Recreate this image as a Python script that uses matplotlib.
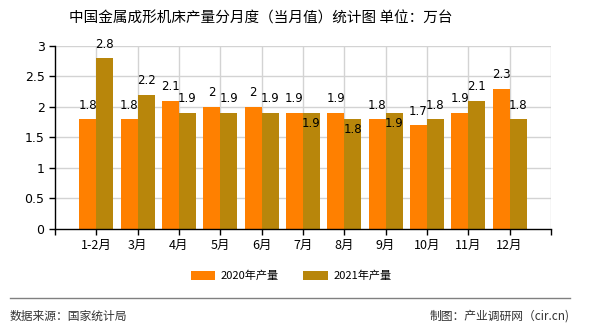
import matplotlib
matplotlib.use('Agg')
import matplotlib.pyplot as plt
from matplotlib.lines import Line2D
import numpy as np

plt.rcParams['font.family'] = ['Noto Sans CJK SC', 'DejaVu Sans']

months = ['1-2月', '3月', '4月', '5月', '6月', '7月', '8月', '9月', '10月', '11月', '12月']
prod_2020 = [1.8, 1.8, 2.1, 2.0, 2.0, 1.9, 1.9, 1.8, 1.7, 1.9, 2.3]
prod_2021 = [2.8, 2.2, 1.9, 1.9, 1.9, 1.9, 1.8, 1.9, 1.8, 2.1, 1.8]

c20 = '#FF8000'
c21 = '#B8860B'

fig = plt.figure(figsize=(5.9, 3.3), dpi=100)
ax = fig.add_axes([0.0932, 0.3061, 0.8407, 0.5545])

x = np.arange(1, len(months) + 1)
w = 0.41
b1 = ax.bar(x - w / 2, prod_2020, w, color=c20, label='2020年产量', zorder=2)
b2 = ax.bar(x + w / 2, prod_2021, w, color=c21, label='2021年产量', zorder=2)

def fmt(v):
    return ('%g' % v)

for xi, a, b in zip(x, prod_2020, prod_2021):
    ax.annotate(fmt(a), (xi - w / 2, a), xytext=(0, 5.5), textcoords='offset points',
                ha='center', va='bottom', fontsize=8.5, family='DejaVu Sans', zorder=3)
    # second label drops inside the bar when it would clash with the first
    clash = abs(a - b) <= 0.1 and a != int(a)
    if clash:
        ax.annotate(fmt(b), (xi + w / 2, b), xytext=(0, -2.5), textcoords='offset points',
                    ha='center', va='top', fontsize=8.5, family='DejaVu Sans', zorder=3)
    else:
        ax.annotate(fmt(b), (xi + w / 2, b), xytext=(0, 5.5), textcoords='offset points',
                    ha='center', va='bottom', fontsize=8.5, family='DejaVu Sans', zorder=3)

ax.set_xlim(0, 12)
ax.set_ylim(0, 3)
ax.set_yticks(np.arange(0, 3.01, 0.5))
ax.set_yticklabels(['0', '0.5', '1', '1.5', '2', '2.5', '3'], family='DejaVu Sans')
ax.set_xticks(np.arange(0, 13))
ax.set_xticklabels([''] + months + [''])
ax.tick_params(axis='both', labelsize=9, length=4, width=1, colors='black')

for v in np.arange(0.5, 3.01, 0.5):
    ax.axhline(v, color='#d3d3d3', lw=1, zorder=1)
for v in range(1, 13):
    ax.axvline(v, color='#d3d3d3', lw=1, zorder=1)

for s in ['top', 'right']:
    ax.spines[s].set_visible(False)
ax.spines['left'].set_linewidth(1)
ax.spines['bottom'].set_linewidth(1)

fig.text(0.442, 0.945, '中国金属成形机床产量分月度（当月值）统计图 单位：万台',
         ha='center', va='center', fontsize=10.5)

fig.legend(handles=[b1, b2], loc='center', bbox_to_anchor=(0.493, 0.164), ncol=2,
           frameon=False, fontsize=8, handlelength=2.2, handleheight=0.8,
           columnspacing=2.2, handletextpad=0.5)

fig.add_artist(Line2D([0.017, 0.966], [0.097, 0.097], transform=fig.transFigure,
                      color='#808080', lw=1))
fig.text(0.017, 0.042, '数据来源：国家统计局', ha='left', va='center', fontsize=8.5, color='#333333')
fig.text(0.966, 0.042, '制图：产业调研网（cir.cn)', ha='right', va='center', fontsize=8.5, color='#333333')

fig.savefig('out.png', dpi=100)
